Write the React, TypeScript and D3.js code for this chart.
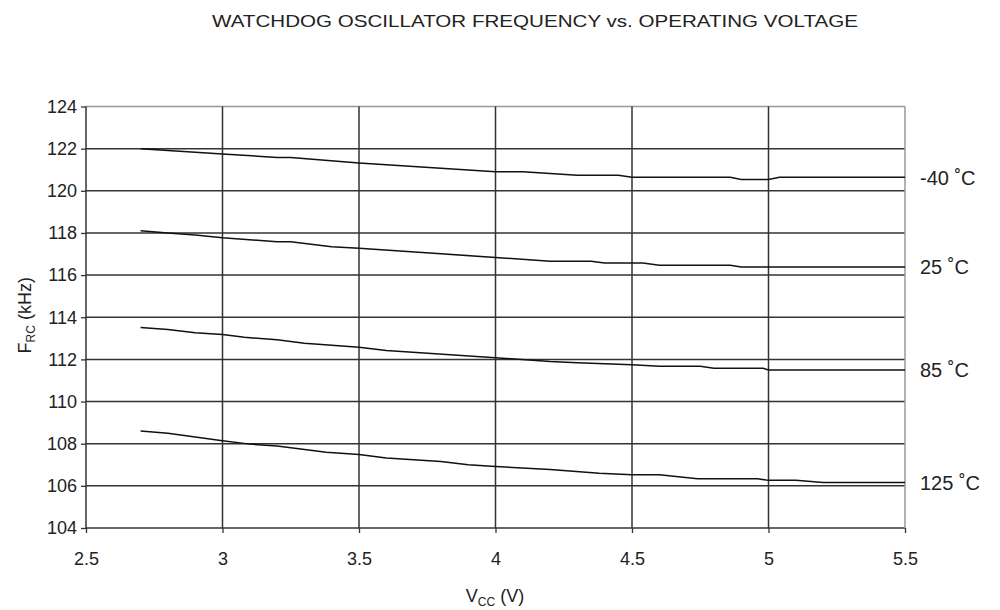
import React, { useEffect, useRef } from 'react';
import * as d3 from 'd3';

// Vcc (V) / Frc (kHz)
const vccM40 = [2.7, 3.0, 3.2, 3.25, 3.5, 4.0, 4.1, 4.3, 4.45, 4.5, 4.86, 4.9, 5.0, 5.04, 5.5];
const frcM40 = [122.0, 121.75, 121.58, 121.58, 121.32, 120.9, 120.9, 120.74, 120.74, 120.64, 120.64, 120.54, 120.54, 120.64, 120.64];

const vcc25 = [2.7, 2.8, 2.9, 3.0, 3.2, 3.25, 3.4, 3.5, 4.0, 4.2, 4.35, 4.4, 4.54, 4.6, 4.86, 4.9, 5.5];
const frc25 = [118.1, 118.0, 117.9, 117.77, 117.58, 117.58, 117.34, 117.27, 116.84, 116.66, 116.66, 116.57, 116.57, 116.47, 116.47, 116.39, 116.39];

const vcc85 = [2.7, 2.8, 2.9, 3.0, 3.08, 3.2, 3.3, 3.5, 3.6, 4.0, 4.2, 4.3, 4.5, 4.6, 4.75, 4.8, 4.98, 5.0, 5.5];
const frc85 = [113.51, 113.42, 113.26, 113.18, 113.05, 112.93, 112.77, 112.58, 112.42, 112.08, 111.9, 111.84, 111.75, 111.67, 111.67, 111.58, 111.58, 111.5, 111.5];

const vcc125 = [2.7, 2.8, 3.0, 3.1, 3.2, 3.38, 3.5, 3.6, 3.8, 3.9, 4.0, 4.2, 4.38, 4.5, 4.6, 4.74, 4.96, 5.0, 5.1, 5.2, 5.5];
const frc125 = [108.6, 108.5, 108.14, 107.98, 107.89, 107.6, 107.49, 107.32, 107.16, 107.0, 106.92, 106.77, 106.6, 106.53, 106.53, 106.34, 106.34, 106.26, 106.26, 106.16, 106.16];

const seriesLabels = ['-40 ˚C', '25 ˚C', '85 ˚C', '125 ˚C'];
const xTicks = [2.5, 3, 3.5, 4, 4.5, 5, 5.5];
const yTicks = [104, 106, 108, 110, 112, 114, 116, 118, 120, 122, 124];

const title = 'WATCHDOG OSCILLATOR FREQUENCY vs. OPERATING VOLTAGE';

const W = 1000;
const H = 610;
const FONT = '"Liberation Sans", Arial, Helvetica, sans-serif';

export default function App() {
  const svgRef = useRef<SVGSVGElement>(null);

  useEffect(() => {
    if (!svgRef.current) return;
    const svg = d3.select(svgRef.current);
    svg.selectAll('*').remove();

    const left = 86, right = 905, top = 106.5, bottom = 528;

    const x = d3.scaleLinear().domain([2.5, 5.5]).range([left, right]);
    const y = d3.scaleLinear().domain([104, 124]).range([bottom, top]);

    const series = [
      { v: vccM40, f: frcM40 },
      { v: vcc25, f: frc25 },
      { v: vcc85, f: frc85 },
      { v: vcc125, f: frc125 },
    ];

    // title
    svg.append('text')
      .attr('x', 535)
      .attr('y', 27)
      .attr('text-anchor', 'middle')
      .attr('font-family', FONT)
      .attr('font-size', 17)
      .attr('fill', '#222')
      .attr('textLength', 646)
      .attr('lengthAdjust', 'spacingAndGlyphs')
      .text(title);

    const grid = svg.append('g');

    // horizontal grid lines
    grid.selectAll('line.h')
      .data(yTicks)
      .join('line')
      .attr('class', 'h')
      .attr('x1', left)
      .attr('x2', right)
      .attr('y1', d => y(d))
      .attr('y2', d => y(d))
      .attr('stroke', d => d === 124 ? '#999' : '#333')
      .attr('stroke-width', 1.5);

    // vertical grid lines
    grid.selectAll('line.v')
      .data(xTicks)
      .join('line')
      .attr('class', 'v')
      .attr('x1', d => x(d))
      .attr('x2', d => x(d))
      .attr('y1', top)
      .attr('y2', bottom)
      .attr('stroke', d => d === 5.5 ? '#999' : '#333')
      .attr('stroke-width', 1.5);

    // y axis
    const yAxis = svg.append('g')
      .attr('transform', `translate(${left},0)`)
      .call(d3.axisLeft(y).tickValues(yTicks).tickSize(5).tickPadding(4).tickFormat(d3.format('d')));
    yAxis.select('.domain').remove();
    yAxis.selectAll('line').attr('stroke', '#333').attr('stroke-width', 1.3);
    yAxis.selectAll('text')
      .attr('font-family', FONT)
      .attr('font-size', 18)
      .attr('fill', '#222');

    // x axis
    const xAxis = svg.append('g')
      .attr('transform', `translate(0,${bottom})`)
      .call(d3.axisBottom(x).tickValues(xTicks).tickSize(5).tickPadding(19).tickFormat(d3.format('')));
    xAxis.select('.domain').remove();
    xAxis.selectAll('line').attr('stroke', '#333').attr('stroke-width', 1.3);
    xAxis.selectAll('text')
      .attr('font-family', FONT)
      .attr('font-size', 18)
      .attr('fill', '#222');

    // curves
    const line = d3.line<[number, number]>()
      .x(d => x(d[0]))
      .y(d => y(d[1]));

    svg.append('g')
      .selectAll('path')
      .data(series)
      .join('path')
      .attr('d', s => line(s.v.map((v, i) => [v, s.f[i]] as [number, number])))
      .attr('fill', 'none')
      .attr('stroke', '#111')
      .attr('stroke-width', 1.5);

    // temperature labels at the right
    svg.append('g')
      .selectAll('text')
      .data(series)
      .join('text')
      .attr('x', right + 15)
      .attr('y', s => y(s.f[s.f.length - 1]) + 2)
      .attr('dominant-baseline', 'middle')
      .attr('font-family', FONT)
      .attr('font-size', 20)
      .attr('fill', '#222')
      .text((s, i) => seriesLabels[i]);

    // x label
    const xl = svg.append('text')
      .attr('x', 495)
      .attr('y', 602)
      .attr('text-anchor', 'middle')
      .attr('font-family', FONT)
      .attr('font-size', 18)
      .attr('fill', '#222');
    xl.append('tspan').text('V');
    xl.append('tspan').attr('font-size', 12).attr('dy', 4).text('CC');
    xl.append('tspan').attr('dy', -4).text(' (V)');

    // y label
    const yl = svg.append('text')
      .attr('transform', `translate(31,${(top + bottom) / 2 - 2}) rotate(-90)`)
      .attr('text-anchor', 'middle')
      .attr('font-family', FONT)
      .attr('font-size', 18)
      .attr('fill', '#222');
    yl.append('tspan').text('F');
    yl.append('tspan').attr('font-size', 12).attr('dy', 4).text('RC');
    yl.append('tspan').attr('dy', -4).text(' (kHz)');
  }, []);

  return (
    <svg
      ref={svgRef}
      width={W}
      height={H}
      style={{ position: 'absolute', left: 0, top: 0, background: '#fff' }}
    />
  );
}
